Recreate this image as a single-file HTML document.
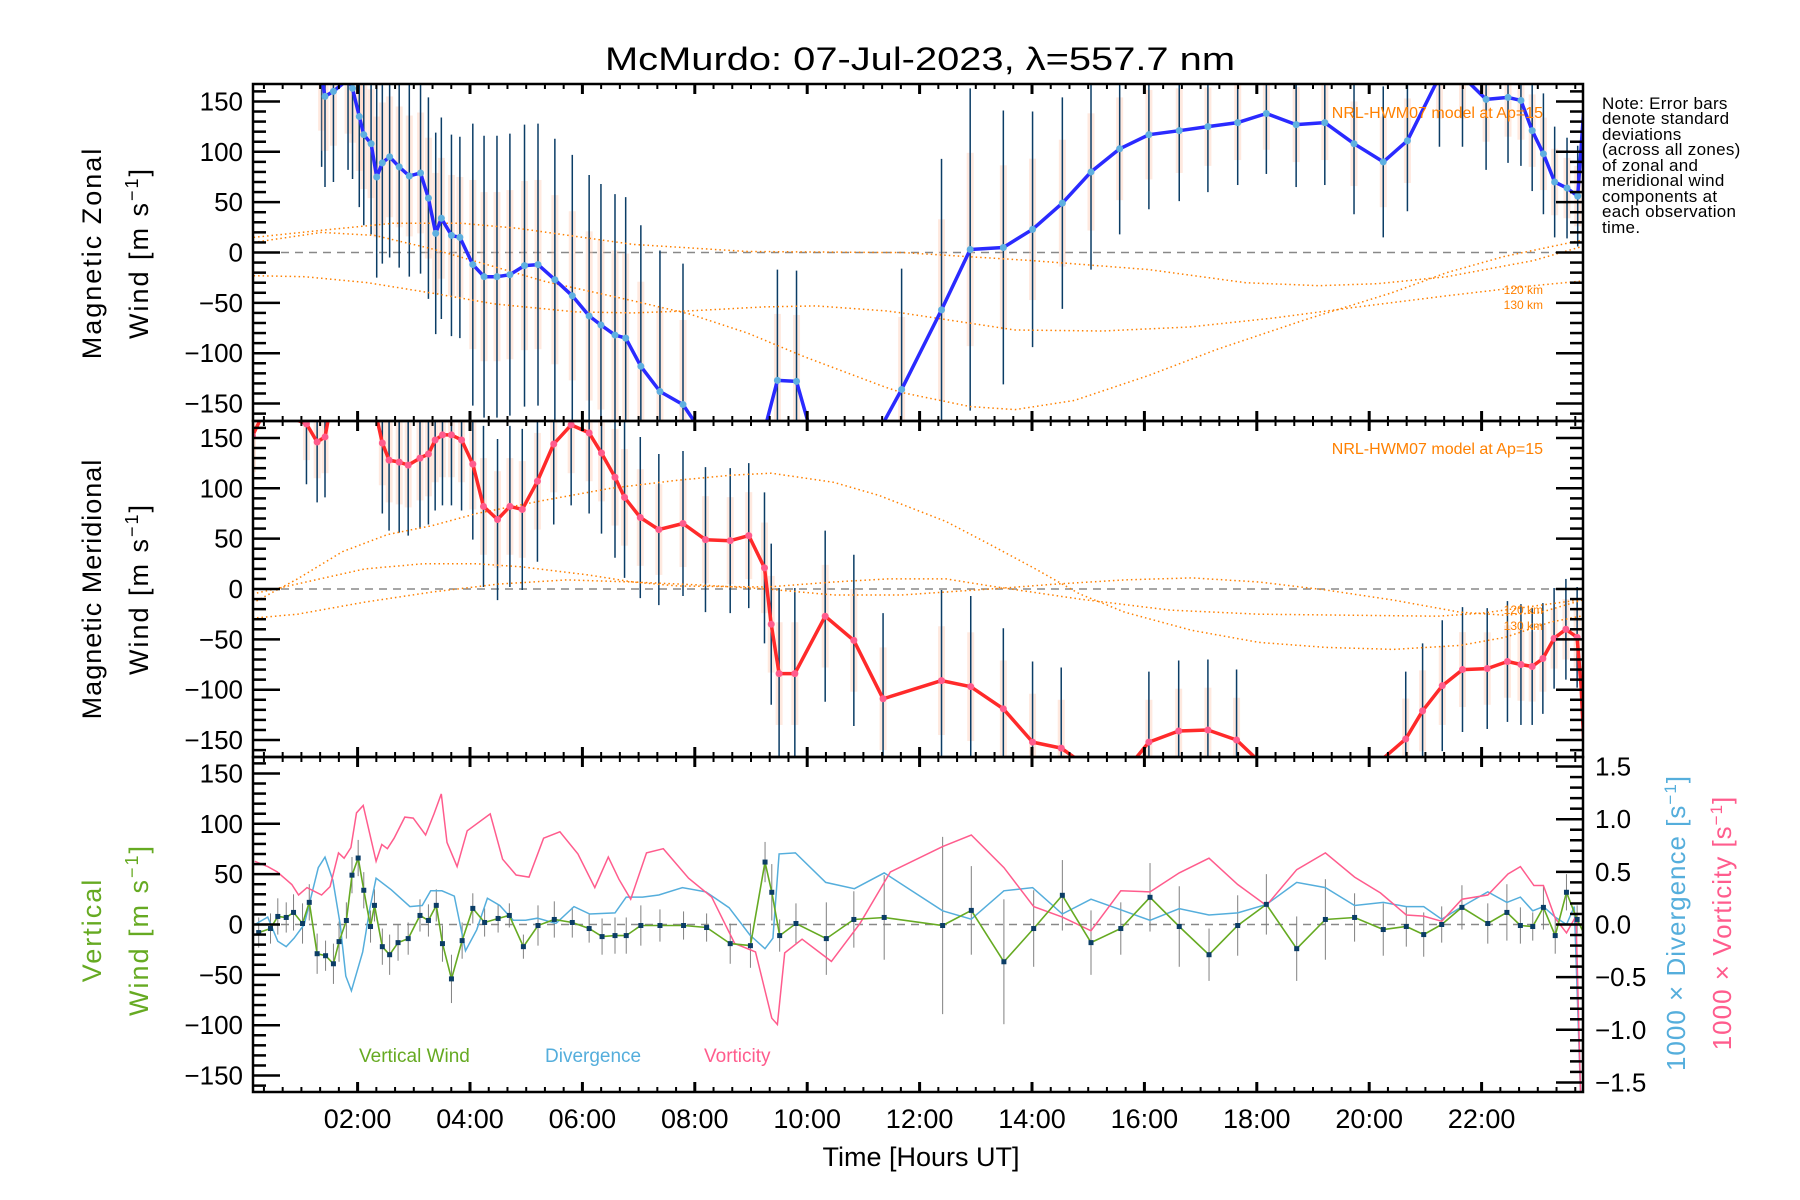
<!DOCTYPE html>
<html><head><meta charset="utf-8"><style>
html,body{margin:0;padding:0;background:#fff;}
svg{display:block;font-family:"Liberation Sans",sans-serif;}
</style></head><body>
<svg id="chart" width="1800" height="1200" viewBox="0 0 1800 1200" xmlns="http://www.w3.org/2000/svg">
<rect x="0" y="0" width="1800" height="1200" fill="#fff"/>
<defs>
<clipPath id="c0"><rect x="253" y="84" width="1330" height="337"/></clipPath>
<clipPath id="c1"><rect x="253" y="421" width="1330" height="336"/></clipPath>
<clipPath id="c2"><rect x="253" y="757" width="1330" height="335"/></clipPath>
</defs>
<text x="920" y="70" font-size="32" text-anchor="middle" textLength="630" lengthAdjust="spacingAndGlyphs">McMurdo: 07-Jul-2023, λ=557.7 nm</text>
<g id="layer"></g>
<g font-size="17" fill="#000" letter-spacing="0.3">
<text x="1602" y="109">Note: Error bars</text>
<text x="1602" y="124">denote standard</text>
<text x="1602" y="140">deviations</text>
<text x="1602" y="155">(across all zones)</text>
<text x="1602" y="171">of zonal and</text>
<text x="1602" y="186">meridional wind</text>
<text x="1602" y="202">components at</text>
<text x="1602" y="217">each observation</text>
<text x="1602" y="233">time.</text>
</g>
<text x="1543" y="118" font-size="16" fill="#ff8000" text-anchor="end">NRL-HWM07 model at Ap=15</text>
<text x="1543" y="454" font-size="16" fill="#ff8000" text-anchor="end">NRL-HWM07 model at Ap=15</text>
<text x="1543" y="294" font-size="12" fill="#ff8000" text-anchor="end">120 km</text>
<text x="1543" y="309" font-size="12" fill="#ff8000" text-anchor="end">130 km</text>
<text x="1543" y="614" font-size="12" fill="#ff8000" text-anchor="end">120 km</text>
<text x="1543" y="630" font-size="12" fill="#ff8000" text-anchor="end">130 km</text>
<text x="359" y="1062" font-size="19" fill="#66aa22">Vertical Wind</text>
<text x="545" y="1062" font-size="19" fill="#55aedc">Divergence</text>
<text x="704" y="1062" font-size="19" fill="#ff5c8d">Vorticity</text>
<g font-size="27">
<text transform="translate(101,253) rotate(-90)" text-anchor="middle" letter-spacing="2">Magnetic Zonal</text>
<text transform="translate(148,253) rotate(-90)" text-anchor="middle" letter-spacing="2">Wind [m s<tspan dy="-10" font-size="18">−1</tspan><tspan dy="10">]</tspan></text>
</g>
<g font-size="27">
<text transform="translate(101,589) rotate(-90)" text-anchor="middle" letter-spacing="1">Magnetic Meridional</text>
<text transform="translate(148,589) rotate(-90)" text-anchor="middle" letter-spacing="2">Wind [m s<tspan dy="-10" font-size="18">−1</tspan><tspan dy="10">]</tspan></text>
</g>
<g font-size="27" fill="#66aa22">
<text transform="translate(101,930) rotate(-90)" text-anchor="middle" letter-spacing="2">Vertical</text>
<text transform="translate(148,930) rotate(-90)" text-anchor="middle" letter-spacing="2">Wind [m s<tspan dy="-10" font-size="18">−1</tspan><tspan dy="10">]</tspan></text>
</g>
<text transform="translate(1685,923) rotate(-90)" text-anchor="middle" font-size="26" fill="#55aedc" letter-spacing="1">1000 × Divergence [s<tspan dy="-9" font-size="17">−1</tspan><tspan dy="9">]</tspan></text>
<text transform="translate(1731,923) rotate(-90)" text-anchor="middle" font-size="26" fill="#ff5c8d" letter-spacing="1">1000 × Vorticity [s<tspan dy="-9" font-size="17">−1</tspan><tspan dy="9">]</tspan></text>
<text x="921" y="1166" font-size="27" text-anchor="middle">Time [Hours UT]</text>
</svg>
<script>
// ---- data ----
const xTickLabels = ["02:00","04:00","06:00","08:00","10:00","12:00","14:00","16:00","18:00","20:00","22:00"];
const xTickHours = [2,4,6,8,10,12,14,16,18,20,22];
const yTickValues = [150,100,50,0,-50,-100,-150];
const rTickValues = [1.5,1.0,0.5,0.0,-0.5,-1.0,-1.5];
const rTickLabels = ["1.5","1.0","0.5","0.0","−0.5","−1.0","−1.5"];

const zonT = [0.2,0.6,1.0,1.36,1.42,1.57,1.83,1.91,2.03,2.11,2.24,2.34,2.44,2.57,2.74,2.92,3.12,3.26,3.39,3.49,3.67,3.82,4.05,4.25,4.48,4.71,4.97,5.21,5.51,5.82,6.12,6.33,6.58,6.77,7.04,7.38,7.79,8.2,9.2,9.47,9.81,10.1,11.2,11.68,12.39,12.9,13.49,14.01,14.54,15.05,15.56,16.08,16.62,17.13,17.66,18.17,18.7,19.21,19.73,20.25,20.68,21.25,21.66,22.08,22.47,22.7,22.9,23.1,23.3,23.52,23.71,23.86];
const zonV = [190,190,190,175,155,160,172,163,135,117,108,75,89,95,85,76,79,54,19,34,17,15,-12,-24,-24,-22,-13,-12,-27,-43,-63,-72,-82,-85,-113,-138,-151,-185,-185,-127,-128,-185,-185,-136,-57,3,5,23,49,80,103,117,121,125,129,138,127,129,108,90,111,175,175,152,154,151,121,98,70,64,56,175];
const zonE = [0,0,0,90,90,90,90,90,90,90,90,100,100,100,100,100,100,100,100,100,100,100,140,140,140,140,140,140,140,140,140,140,140,140,140,140,140,0,0,110,110,0,0,120,150,160,136,117,105,97,85,74,70,65,62,60,62,62,70,75,70,70,70,70,65,65,60,60,55,50,50,0];

const merT = [0.13,0.37,1.09,1.28,1.42,1.5,2.32,2.44,2.56,2.74,2.9,3.11,3.26,3.38,3.51,3.67,3.85,4.05,4.24,4.49,4.71,4.93,5.2,5.49,5.8,6.12,6.34,6.58,6.75,7.03,7.36,7.79,8.19,8.63,8.96,9.24,9.36,9.5,9.78,10.32,10.83,11.35,12.39,12.91,13.49,14.01,14.52,15.2,15.6,16.08,16.61,17.13,17.64,18.3,19.9,20.65,20.95,21.3,21.66,22.1,22.46,22.7,22.9,23.09,23.29,23.5,23.7,23.77,23.85];
const merV = [152,180,164,146,151,175,175,145,128,126,123,130,134,148,153,153,148,124,82,69,82,79,107,144,163,155,135,111,91,71,59,65,49,48,53,21,-35,-84,-84,-27,-51,-109,-91,-97,-119,-152,-158,-185,-185,-152,-141,-140,-150,-185,-185,-149,-121,-96,-80,-79,-72,-75,-77,-69,-49,-40,-48,-97,-190];
const merE = [60,0,60,60,60,0,0,70,70,70,70,70,70,70,70,70,70,75,80,80,80,80,80,80,80,80,80,80,80,80,75,72,72,72,72,75,80,85,85,85,85,85,90,90,80,80,80,0,0,70,70,70,70,0,0,67,67,65,62,60,60,60,58,55,50,50,50,0,0];

const vertT = [0.24,0.45,0.58,0.73,0.86,1.02,1.14,1.28,1.43,1.57,1.67,1.8,1.9,2.01,2.11,2.23,2.3,2.44,2.57,2.72,2.9,3.11,3.26,3.4,3.51,3.67,3.86,4.05,4.26,4.5,4.7,4.95,5.21,5.5,5.82,6.12,6.35,6.58,6.78,7.04,7.38,7.8,8.21,8.63,8.99,9.25,9.37,9.51,9.8,10.34,10.83,11.37,12.41,12.92,13.5,14.03,14.54,15.05,15.58,16.1,16.62,17.15,17.66,18.17,18.71,19.22,19.74,20.25,20.66,20.97,21.29,21.65,22.11,22.45,22.69,22.91,23.1,23.31,23.51,23.7,23.86];
const vertV = [-8,-4,8,7,12,1,22,-29,-31,-39,-17,4,49,66,34,-2,19,-22,-30,-18,-14,9,4,19,-19,-54,-16,16,2,6,9,-22,-1,5,2,-4,-12,-11,-11,-1,-1,-1,-3,-19,-21,62,32,-11,1,-14,5,7,-1,14,-37,-4,29,-18,-4,27,-2,-30,-1,20,-24,5,7,-5,-2,-10,0,17,1,12,-1,-2,17,-11,32,5,-13];
const vertE = [15,15,18,15,18,20,18,20,15,20,20,18,18,18,18,16,16,18,20,18,16,16,16,16,18,24,18,15,14,14,12,12,20,18,15,14,18,18,18,20,16,14,14,20,22,20,28,16,20,36,28,42,88,44,62,38,35,32,26,34,40,26,30,30,32,40,24,26,20,22,18,22,20,28,18,14,22,18,18,14,10];

const divT = [0.17,0.4,0.58,0.73,0.87,1.05,1.3,1.42,1.56,1.69,1.79,1.89,2.09,2.22,2.33,2.6,2.93,3.15,3.3,3.5,3.72,3.92,4.12,4.31,4.53,4.77,4.99,5.2,5.53,5.85,6.13,6.58,6.78,7.07,7.36,7.78,8.2,8.61,8.98,9.25,9.39,9.5,9.79,10.33,10.84,11.37,12.41,12.92,13.5,14.01,14.54,15.05,15.58,16.1,16.62,17.15,17.66,18.17,18.71,19.22,19.74,20.25,20.66,20.97,21.29,21.65,22.11,22.45,22.69,22.91,23.1,23.31,23.51,23.65,23.76];
const divV = [0,0.07,-0.16,-0.21,-0.13,0,0.54,0.64,0.42,0,-0.49,-0.63,-0.26,0.16,0.44,0.33,0.17,0.18,0.32,0.32,0.27,-0.25,-0.05,0.25,0.18,0.04,0.04,0.06,0.01,0.17,0.1,0.11,0.26,0.26,0.28,0.35,0.31,0.16,-0.1,-0.23,-0.13,0.67,0.68,0.4,0.34,0.49,0.13,0.05,0.32,0.35,0.1,0.24,0.14,0.04,0.15,0.09,0.11,0.19,0.4,0.35,0.18,0.21,0.17,0.17,0.05,0.17,0.31,0.21,0.26,0.13,0.17,0.07,0,0.17,-1.59];

const vortT = [0.17,0.4,0.57,0.72,0.83,0.95,1.1,1.36,1.51,1.66,1.76,1.88,1.98,2.1,2.33,2.43,2.53,2.65,2.84,2.99,3.21,3.36,3.49,3.59,3.77,3.95,4.36,4.58,4.82,5.05,5.31,5.6,5.92,6.22,6.46,6.65,6.86,7.14,7.44,7.89,8.3,8.71,9.08,9.37,9.47,9.6,9.91,10.43,10.94,11.48,12.41,12.92,13.5,14.03,14.54,15.05,15.58,16.1,16.62,17.15,17.66,18.17,18.71,19.22,19.74,20.2,20.66,20.97,21.29,21.65,22.11,22.47,22.69,22.93,23.1,23.31,23.51,23.68,23.76];
const vortV = [0.6,0.55,0.5,0.43,0.38,0.28,0.35,0.28,0.36,0.68,0.63,0.73,1.06,1.13,0.6,0.76,0.72,0.82,1.02,1.01,0.85,1.05,1.24,0.78,0.55,0.89,1.05,0.62,0.47,0.45,0.82,0.88,0.67,0.35,0.64,0.43,0.24,0.68,0.72,0.44,0.26,-0.18,-0.26,-0.89,-0.95,-0.27,-0.14,-0.35,0.01,0.5,0.74,0.85,0.54,0.17,0.07,-0.06,0.32,0.31,0.49,0.63,0.38,0.18,0.52,0.68,0.45,0.3,0.09,0.08,0.03,0.24,0.28,0.48,0.55,0.37,0.37,0.06,-0.08,0.08,-1.59];

// model curves
const mZA_T=[0.15,1.36,2.62,3.85,4.85,5.88,6.9,8.94,11.4,11.68,14,16.08,17.8,19.1,20.15,21.38,22.92,23.85];
const mZA_V=[15,22,29,29,24,16,8,1,0,0,-8,-17,-30,-33,-31,-24,-8,7];
const mZB_T=[0.15,1.36,2.3,3.3,4.3,5.35,6.9,7.9,8.94,9.97,11.4,11.68,12.9,13.7,14.75,16.08,17.3,18.9,20.4,21.38,22.4,23.85];
const mZB_V=[10,20,17,4,-12,-29,-48,-61,-80,-104,-134,-139,-153,-156,-147,-122,-96,-66,-40,-20,-4,13];
const mZC_T=[0.15,1.06,2.18,3.4,4.43,5.88,6.9,7.9,9.24,10.16,11.4,11.68,13.7,15.25,16.8,18.3,19.8,21.38,22.92,23.85];
const mZC_V=[-23,-24,-30,-41,-51,-59,-60,-58,-54,-53,-58,-60,-77,-78,-74,-65,-54,-43,-33,-28];
const mMD_T=[0.13,0.93,1.73,2.53,3.33,4.12,5.31,6.5,7.7,8.65,9.36,10.47,11.27,12.47,13.26,14.06,14.85,15.65,16.84,18.04,19.23,20.43,21.62,22.42,23.22,23.85];
const mMD_V=[-14,10,37,54,63,75,88,100,108,113,115,106,93,67,44,20,-5,-23,-41,-53,-58,-60,-56,-48,-33,-26];
const mME_T=[0.13,1.33,2.13,3.16,4.12,4.91,6.1,6.9,7.7,9.29,10.47,11.43,12.47,13.26,14.85,16.45,18.04,19.63,21.22,22.0,23.06,23.85];
const mME_V=[-5,10,20,25,25,22,14,7,3,2,7,10,10,3,-10,-21,-25,-26,-27,-24,-16,-10];
const mMF_T=[0.13,0.93,2.13,3.33,4.52,5.72,6.9,8.1,9.29,10.47,11.68,13.26,14.45,15.65,16.84,18.04,19.23,20.43,21.62,22.42,23.06,23.85];
const mMF_V=[-29,-25,-13,-3,5,9,7,4,0,-6,-6,0,5,9,11,7,-1,-11,-23,-26,-23,-10];

// ---- layout ----
const X0=245.2, XS=56.2, PL=253, PR=1583;
const tops=[84,421,757], bots=[421,757,1092];
const VS=1.007;
function xs(h){return X0+h*XS;}
function ys(p,v){return (tops[p]+bots[p])/2 - v*VS;}
function yr(d){return 924.5 - d*105.3;}

const NS="http://www.w3.org/2000/svg";
const layer=document.getElementById('layer');
function mk(tag,attrs,parent){const e=document.createElementNS(NS,tag);for(const k in attrs)e.setAttribute(k,attrs[k]);(parent||layer).appendChild(e);return e;}
function pts(T,V,f){return T.map((t,i)=>xs(t).toFixed(1)+','+f(V[i]).toFixed(1)).join(' ');}

const clipG=[0,1,2].map(p=>{const g=mk('g',{'clip-path':'url(#c'+p+')'});


return g;});

// zero lines
[0,1,2].forEach(p=>{const l=mk('line',{x1:PL,x2:PR,y1:ys(p,0),y2:ys(p,0),stroke:'#888','stroke-width':1.5,'stroke-dasharray':'8,6'},clipG[p]);

});

// error bars + pastel strips
function errBars(p,T,V,E,col){T.forEach((t,i)=>{if(!E[i])return;const x=xs(t);
const s=mk('rect',{x:x-3.5,y:ys(p,V[i]+E[i]*0.6),width:7,height:E[i]*1.2*VS,fill:'#ffc8b0',opacity:0.4},clipG[p]);


const l=mk('line',{x1:x,x2:x,y1:ys(p,V[i]+E[i]),y2:ys(p,V[i]-E[i]),stroke:col,'stroke-width':1.5},clipG[p]);

});}
errBars(0,zonT,zonV,zonE,'#0b3d66');
errBars(1,merT,merV,merE,'#0b3d66');
vertT.forEach((t,i)=>{const x=xs(t);const l=mk('line',{x1:x,x2:x,y1:ys(2,vertV[i]+vertE[i]),y2:ys(2,vertV[i]-vertE[i]),stroke:'#808080','stroke-width':1},clipG[2]);

});

// model curves
function model(p,T,V,name){const e=mk('polyline',{points:pts(T,V,v=>ys(p,v)),fill:'none',stroke:'#ff8000','stroke-width':1.5,'stroke-dasharray':'1.5,3'},clipG[p]);

}
model(0,mZA_T,mZA_V,'model-zonal-a');model(0,mZB_T,mZB_V,'model-zonal-b');model(0,mZC_T,mZC_V,'model-zonal-c');
model(1,mMD_T,mMD_V,'model-meridional-a');model(1,mME_T,mME_V,'model-meridional-b');model(1,mMF_T,mMF_V,'model-meridional-c');

// main lines
const zl=mk('polyline',{points:pts(zonT,zonV,v=>ys(0,v)),fill:'none',stroke:'#2a2aff','stroke-width':3.5,'stroke-linejoin':'round'},clipG[0]);


zonT.forEach((t,i)=>{if(!zonE[i])return;const c=mk('circle',{cx:xs(t),cy:ys(0,zonV[i]),r:3.5,fill:'#5fb0e0'},clipG[0]);

});
const ml=mk('polyline',{points:pts(merT,merV,v=>ys(1,v)),fill:'none',stroke:'#ff2a2a','stroke-width':3.5,'stroke-linejoin':'round'},clipG[1]);


merT.forEach((t,i)=>{if(!merE[i])return;const c=mk('circle',{cx:xs(t),cy:ys(1,merV[i]),r:3.5,fill:'#ff5c8d'},clipG[1]);

});

const dl=mk('polyline',{points:pts(divT,divV,yr),fill:'none',stroke:'#55aedc','stroke-width':1.5},clipG[2]);


const vl=mk('polyline',{points:pts(vortT,vortV,yr),fill:'none',stroke:'#ff5c8d','stroke-width':1.5},clipG[2]);


const gl=mk('polyline',{points:pts(vertT,vertV,v=>ys(2,v)),fill:'none',stroke:'#66aa22','stroke-width':1.6},clipG[2]);


vertT.forEach((t,i)=>{const r=mk('rect',{x:xs(t)-2.5,y:ys(2,vertV[i])-2.5,width:5,height:5,fill:'#0b3d66'},clipG[2]);

});

// axes frames and ticks
const ax=mk('g',{stroke:'#000',fill:'none'});


[0,1,2].forEach(p=>{
 const fr=mk('rect',{x:PL,y:tops[p],width:PR-PL,height:bots[p]-tops[p],'stroke-width':2.5},ax);
 
 
 for(let m=Math.ceil((PL-X0)/XS*3);m<=Math.floor((PR-X0)/XS*3);m++){
  const x=xs(m/3);const major=(m%6===0);const L=major?10:5;
  mk('line',{x1:x,x2:x,y1:bots[p],y2:bots[p]-L,'stroke-width':major?3:2},ax);
  mk('line',{x1:x,x2:x,y1:tops[p],y2:tops[p]+L,'stroke-width':major?3:2},ax);
 }
 for(let v=-160;v<=160;v+=10){const y=ys(p,v);const major=(v%50===0);
  mk('line',{x1:PL,x2:PL+(major?27:13),y1:y,y2:y,'stroke-width':2.5},ax);
  if(p<2)mk('line',{x1:PR,x2:PR-(major?27:13),y1:y,y2:y,'stroke-width':2.5},ax);}
});
for(let k=-15;k<=15;k++){const y=yr(k/10);const major=(k%5===0);
 mk('line',{x1:PR,x2:PR-(major?27:13),y1:y,y2:y,'stroke-width':2.5},ax);}

// tick labels
[0,1,2].forEach(p=>{yTickValues.forEach(v=>{const t=mk('text',{x:243,y:ys(p,v)+9,'font-size':26,'text-anchor':'end',fill:'#000'});


t.textContent=(v<0?'−':'')+Math.abs(v);});});
rTickValues.forEach((v,i)=>{const t=mk('text',{x:1595,y:yr(v)+9,'font-size':26,fill:'#000'});


t.textContent=rTickLabels[i];});
xTickHours.forEach((h,i)=>{const t=mk('text',{x:xs(h),y:1128,'font-size':27,'text-anchor':'middle',fill:'#000'});


t.textContent=xTickLabels[i];});
</script>
</body></html>
